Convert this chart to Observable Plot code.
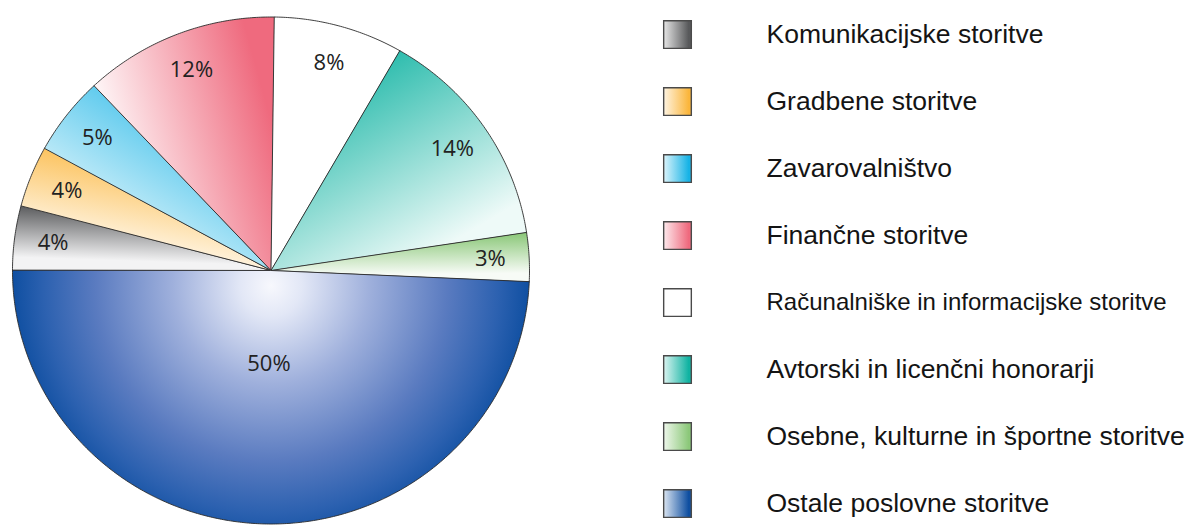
<!DOCTYPE html>
<html><head><meta charset="utf-8">
<script src="https://cdn.jsdelivr.net/npm/d3@7"></script>
<script src="https://cdn.jsdelivr.net/npm/@observablehq/plot@0.6"></script>
<style>
html,body{margin:0;padding:0;background:#fff;}
#wrap{display:flex;width:1190px;height:526px;overflow:hidden;}
#wrap svg{display:block;flex:none;}
</style></head><body><div id="wrap"></div>
<script>
// ---- data (legend order) ----
const categories = [
  "Komunikacijske storitve",
  "Gradbene storitve",
  "Zavarovalništvo",
  "Finančne storitve",
  "Računalniške in informacijske storitve",
  "Avtorski in licenčni honorarji",
  "Osebne, kulturne in športne storitve",
  "Ostale poslovne storitve"
];
const shares = [4.1, 3.9, 5.0, 12.2, 8.1, 14.3, 3.1, 49.3];
const labels = ["4%", "4%", "5%", "12%", "8%", "14%", "3%", "50%"];
const colors = ["#58595b", "#fbb63c", "#17b3e6", "#ef6a7e", "#ffffff", "#10b3a2", "#8cc87a", "#0f4fa1"];
const startDeg = 270;

const rows = categories.map((c, i) => ({category: c, share: shares[i], label: labels[i], color: colors[i], i}));
const pie = d3.pie().sort(null).value(d => d.share)
  .startAngle(startDeg * Math.PI / 180).endAngle((startDeg + 360) * Math.PI / 180);
const arcs = pie(rows);

const wedges = arcs.map(a => {
  const pts = [{x: 0, y: 0}];
  const n = Math.max(2, Math.ceil((a.endAngle - a.startAngle) / (Math.PI / 360)));
  for (let k = 0; k <= n; k++) {
    const t = a.startAngle + (a.endAngle - a.startAngle) * k / n;
    pts.push({x: Math.sin(t), y: Math.cos(t)});
  }
  return pts;
});
const mid = a => (a.startAngle + a.endAngle) / 2;
const labR = a => (a.endAngle - a.startAngle > Math.PI / 2 ? 0.37 : 0.85);

const pieChart = Plot.plot({
  width: 560, height: 526, margin: 0,
  x: {domain: [-1, 1], range: [12, 529], axis: null},
  y: {domain: [-1, 1], range: [523.5, 16.5], axis: null},
  marks: [
    ...wedges.map((pts, i) => Plot.line(pts, {
      x: "x", y: "y", curve: "linear-closed",
      fill: `url(#pg${i})`, stroke: "#2a2a2a", strokeWidth: 0.9, strokeLinejoin: "round"
    })),
    Plot.text(arcs, {
      x: a => labR(a) * Math.sin(mid(a)),
      y: a => labR(a) * Math.cos(mid(a)),
      text: a => a.data.label,
      fontSize: 22, fontFamily: "'Open Sans', sans-serif", fill: "#222"
    })
  ]
});

// gradients for the slices
{
  const sx = pieChart.scale("x"), sy = pieChart.scale("y");
  const X = v => sx.apply(v), Y = v => sy.apply(v);
  const defs = d3.select(pieChart).insert("defs", ":first-child");
  const topDist = a => { const m = ((a % (2 * Math.PI)) + 2 * Math.PI) % (2 * Math.PI); return Math.min(m, 2 * Math.PI - m); };
  arcs.forEach((a, i) => {
    const col = a.data.color;
    const light = d3.interpolateRgb(col, "#fff")(0.93);
    if (a.endAngle - a.startAngle > Math.PI / 2) {
      const g = defs.append("radialGradient").attr("id", `pg${i}`).attr("gradientUnits", "userSpaceOnUse")
        .attr("cx", X(0)).attr("cy", Y(-0.06)).attr("r", (X(1) - X(0)) * 1.0);
      [[0, "#f7f8fd"], [0.12, "#e2e7f6"], [0.38, "#9fb0dc"], [0.68, "#5a7bc0"], [0.88, "#2c61b0"], [1, col]]
        .forEach(([o, c]) => g.append("stop").attr("offset", o).attr("stop-color", c));
    } else {
      // direction across the slice (perpendicular to its bisector), colour on the side nearer 12 o'clock
      const cEdge = topDist(a.startAngle) < topDist(a.endAngle) ? a.startAngle : a.endAngle;
      const wEdge = cEdge === a.startAngle ? a.endAngle : a.startAngle;
      const m = mid(a);
      const b = [Math.sin(m), -Math.cos(m)];
      let p = [-b[1], b[0]];
      const w = [Math.sin(wEdge), -Math.cos(wEdge)];
      if (p[0] * w[0] + p[1] * w[1] < 0) p = [-p[0], -p[1]];
      const s = Math.max(Math.abs(p[0]), Math.abs(p[1]));
      const q = [p[0] / s, p[1] / s];
      const g = defs.append("linearGradient").attr("id", `pg${i}`)
        .attr("x1", 0.5 - 0.5 * q[0]).attr("y1", 0.5 - 0.5 * q[1])
        .attr("x2", 0.5 + 0.5 * q[0]).attr("y2", 0.5 + 0.5 * q[1]);
      g.append("stop").attr("offset", 0.05).attr("stop-color", col);
      g.append("stop").attr("offset", 0.85).attr("stop-color", light);
    }
  });
}

const legend = Plot.plot({
  width: 630, height: 526, margin: 0,
  y: {type: "point", domain: categories, range: [31.5, 505], padding: 0, axis: null},
  color: {type: "identity"},
  marks: [
    Plot.dot(rows, {
      y: "category", frameAnchor: "left", dx: 117, symbol: "square", r: 15.6,
      fill: d => `url(#lg${d.i})`, stroke: "#4a4a4a", strokeWidth: 1.4
    }),
    Plot.text(rows, {
      y: "category", frameAnchor: "left", dx: 206, text: "category", textAnchor: "start",
      fontSize: d => (d.category.length > 37 ? 24 : 26.5),
      fontFamily: "'Liberation Sans', Arial, sans-serif", fill: "#141414"
    })
  ]
});
{
  const defs = d3.select(legend).insert("defs", ":first-child");
  rows.forEach(d => {
    const g = defs.append("linearGradient").attr("id", `lg${d.i}`)
      .attr("x1", 0).attr("x2", 1).attr("y1", 0).attr("y2", 0);
    g.append("stop").attr("offset", 0).attr("stop-color", d3.interpolateRgb(d.color, "#fff")(0.85));
    g.append("stop").attr("offset", 0.9).attr("stop-color", d.color);
  });
}

document.getElementById("wrap").append(pieChart, legend);
</script>
</body></html>
